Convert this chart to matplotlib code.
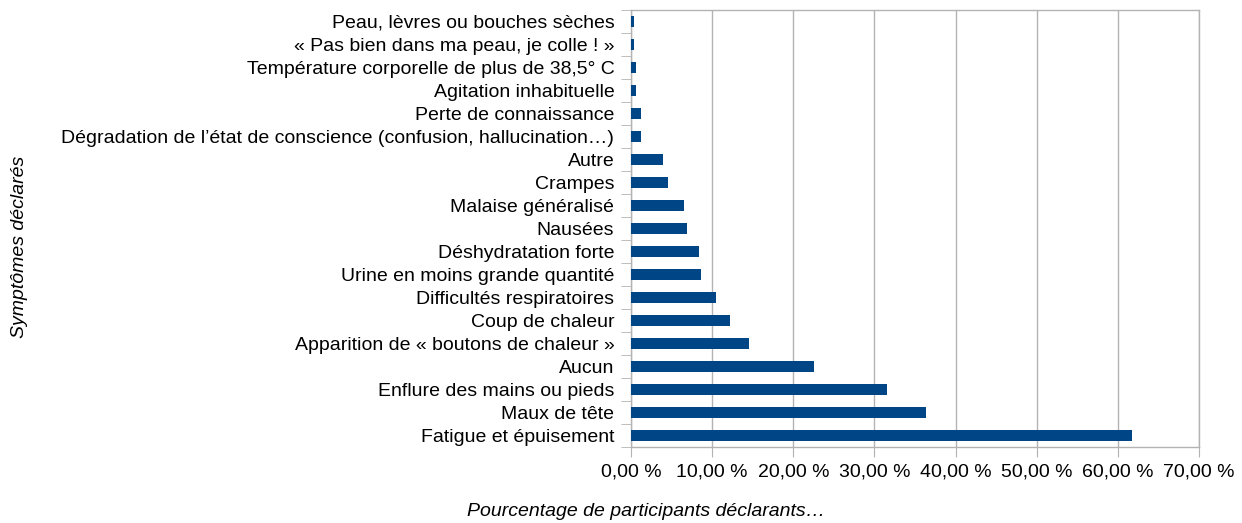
import matplotlib
matplotlib.use("Agg")
import matplotlib.pyplot as plt
from matplotlib.ticker import FuncFormatter

plt.rcParams['font.family'] = ['Liberation Sans', 'DejaVu Sans']

categories = [
    "Fatigue et épuisement",
    "Maux de tête",
    "Enflure des mains ou pieds",
    "Aucun",
    "Apparition de « boutons de chaleur »",
    "Coup de chaleur",
    "Difficultés respiratoires",
    "Urine en moins grande quantité",
    "Déshydratation forte",
    "Nausées",
    "Malaise généralisé",
    "Crampes",
    "Autre",
    "Dégradation de l’état de conscience (confusion, hallucination…)",
    "Perte de connaissance",
    "Agitation inhabituelle",
    "Température corporelle de plus de 38,5° C",
    "« Pas bien dans ma peau, je colle ! »",
    "Peau, lèvres ou bouches sèches",
]
values = [61.8, 36.3, 31.6, 22.6, 14.6, 12.2, 10.5, 8.6, 8.4, 6.9, 6.5,
          4.6, 3.95, 1.2, 1.2, 0.6, 0.6, 0.4, 0.4]
xticks = [0, 10, 20, 30, 40, 50, 60, 70]

fig = plt.figure(figsize=(12.42, 5.23), dpi=100)
ax = fig.add_axes([631/1242, 1 - 447/523, (1199-631)/1242, (447-10)/523])

ypos = list(range(len(categories)))
ax.barh(ypos, values, height=0.52, color='#004586', zorder=3)
ax.set_ylim(-0.5, len(categories) - 0.5)
ax.set_xlim(0, 70)
ax.set_yticks(ypos)
ax.set_yticklabels(categories, fontsize=14)
ax.set_xticks(xticks)
ax.xaxis.set_major_formatter(FuncFormatter(lambda v, p: f"{v:.2f} %".replace('.', ',')))
ax.tick_params(axis='x', labelsize=14, length=7, color='#b3b3b3', pad=5)
ax.set_yticks([i - 0.5 for i in range(len(categories) + 1)], minor=True)
ax.tick_params(axis='y', which='major', length=7, color=(0, 0, 0, 0), pad=5)
ax.tick_params(axis='y', which='minor', length=7, color='#b3b3b3')
ax.grid(axis='x', color='#b3b3b3', linewidth=1, zorder=0)
for s in ax.spines.values():
    s.set_color('#b3b3b3')
    s.set_linewidth(1)

fig.text(20/1242, 1 - 247/523, "Symptômes déclarés", rotation=90, style='italic',
         fontsize=14, ha='center', va='center')
fig.text(646/1242, 1 - 511/523, "Pourcentage de participants déclarants…", style='italic',
         fontsize=14, ha='center', va='center')

fig.savefig("out.png", dpi=100)
